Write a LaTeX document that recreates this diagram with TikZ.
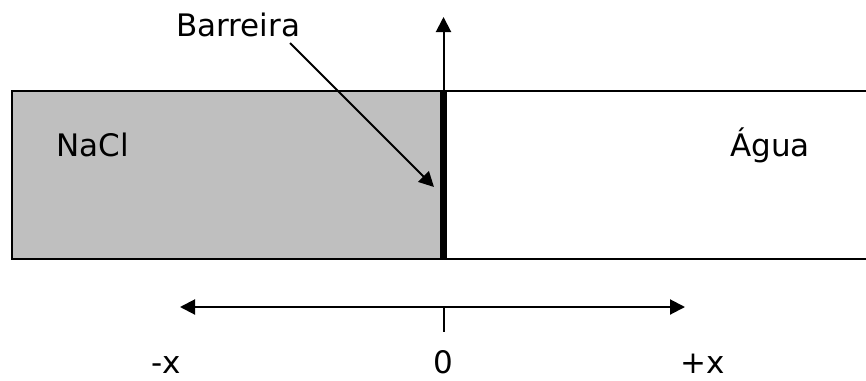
\documentclass[tikz,border=0pt]{standalone}
\usepackage{fontspec}
\setmainfont{DejaVu Sans}
\usetikzlibrary{arrows.meta}

\tikzset{
  lbl/.style = {inner sep=0pt, anchor=base west, font=\fontsize{31}{36}\selectfont},
  tip/.style = {-{Triangle[length=15pt,width=15pt]}, line width=2pt}
}

\begin{document}
\begin{tikzpicture}[x=1pt,y=-1pt]
        \useasboundingbox (0,0) rectangle (866,380);
        % tanks
        \fill[gray!50] (12,91) rectangle (443,259);
        \draw[black, line width=2pt] (12,91) rectangle (870,259);
        % barrier
        \coordinate (Btop) at (443.5,91);
        \coordinate (Bbot) at (443.5,259);
        \coordinate (Ytip) at (443.5,17);
        \draw[black, line width=7pt] (Btop) -- (Bbot);
        \draw[black, tip] (Btop) -- (Ytip);
        % labels
        \node[lbl] (bar) at (176,36) {Barreira};
        \node[lbl] (nacl) at (56,156) {NaCl};
        \node[lbl] (agua) at (730,156) {Água};
        \coordinate (Bstart) at (290,43);
        \coordinate (Bpt) at (434,187);
        \draw[black, tip] (Bstart) -- (Bpt);
        % x axis
        \coordinate (L) at (180,307);
        \coordinate (R) at (685,307);
        \coordinate (O) at (443.5,307);
        \coordinate (Ot) at (443.5,332);
        \draw[black, tip] (O) -- (L);
        \draw[black, tip] (O) -- (R);
        \draw[black, line width=2pt] (O) -- (Ot);
        \node[lbl] (mx) at (151,373) {-x};
        \node[lbl] (zero) at (433,373) {0};
        \node[lbl] (px) at (680,373) {+x};
      \end{tikzpicture}
\end{document}
